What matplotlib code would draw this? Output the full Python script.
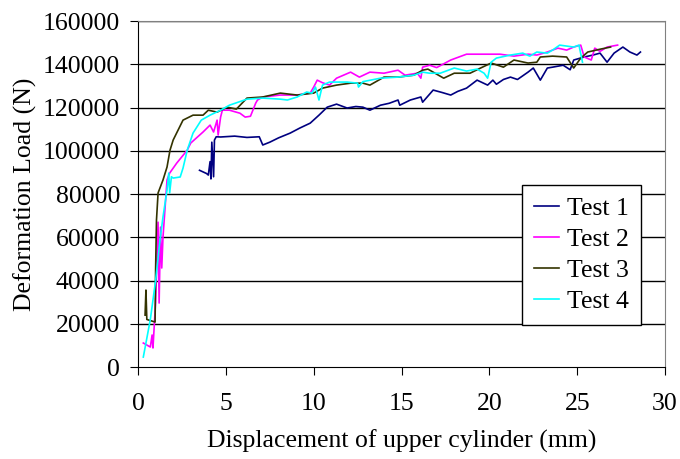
import numpy as np
import matplotlib.pyplot as plt

plt.rcParams['font.family'] = ['Liberation Serif', 'DejaVu Serif']

# Test 1 (mm, N)
t1_x = [3.5, 3.9, 4.0, 4.1, 4.15, 4.2, 4.3, 4.35, 4.45, 4.7, 5.5, 6.2, 6.9, 7.1, 7.5, 8.0, 8.66, 9.2, 9.8,
        10.3, 10.77, 11.3, 11.9, 12.4, 12.8, 13.2, 13.8, 14.3, 14.8, 14.9, 15.5, 16.1, 16.2, 16.8, 17.3, 17.8,
        18.2, 18.7, 19.3, 19.9, 20.2, 20.4, 20.8, 21.2, 21.6, 22.2, 22.5, 22.9, 23.3, 23.6, 24.2, 24.6, 24.8,
        25.4, 25.9, 26.3, 26.7, 27.1, 27.6, 28.0, 28.4, 28.6]
t1_y = [91000, 89500, 88800, 95000, 87000, 104000, 88000, 105000, 106500, 106400, 106800, 106200, 106500, 102700,
        104000, 106000, 108200, 110500, 112800, 116500, 120200, 121600, 119800, 120500, 120200, 118800, 121100,
        122000, 123500, 121100, 123500, 124900, 122500, 128100, 127000, 125800, 127500, 129000, 132700, 130400,
        132700, 130800, 133000, 134100, 133000, 136400, 138300, 132700, 138300, 138700, 139600, 137500, 142000,
        143400, 144300, 145200, 141000, 145200, 148000, 145700, 144300, 145700]

# Test 2
t2_x = [0.3, 0.7, 0.8, 0.85, 1.0, 1.14, 1.2, 1.28, 1.35, 1.42, 1.65, 1.8, 2.2, 2.8, 3.0, 3.7, 4.1, 4.3, 4.5,
        4.56, 4.7, 4.8, 5.2, 5.8, 6.1, 6.4, 6.7, 6.8, 7.1, 8.1, 9.06, 9.8, 10.0, 10.2, 10.5, 10.9, 11.3, 12.1,
        12.6, 13.2, 14.0, 14.8, 15.2, 15.9, 16.1, 16.2, 16.6, 17.0, 17.8, 18.7, 19.7, 20.6, 21.4, 22.2, 22.7,
        23.3, 23.9, 24.4, 24.8, 25.2, 25.4, 25.8, 26.0, 26.3, 26.7, 27.3]
t2_y = [11100, 9250, 14800, 8800, 30000, 67000, 29600, 64700, 45800, 60000, 86500, 89700, 94300, 100300, 103600,
        108700, 111900, 108700, 114200, 107300, 115600, 118800, 118800, 117400, 115600, 116000, 122100, 123500,
        124900, 125800, 125800, 126700, 129500, 132700, 131500, 130400, 133600, 136400, 134100, 136400, 135900,
        137300, 135000, 135900, 133600, 138700, 139600, 138500, 142000, 144700, 144700, 144700, 143800, 144700,
        144300, 145700, 147500, 146600, 148000, 148900, 143400, 142000, 147500, 146000, 148000, 148900]

# Test 3
t3_x = [0.4, 0.45, 0.5, 0.97, 1.0, 1.05, 1.14, 1.42, 1.65, 1.82, 2.0, 2.56, 3.13, 3.7, 4.0, 4.5, 5.07, 5.6,
        6.2, 7.1, 8.1, 9.06, 10.0, 10.5, 11.3, 12.1, 12.8, 13.2, 14.0, 14.8, 15.7, 16.2, 16.5, 17.4, 18.0,
        18.9, 19.5, 20.1, 20.8, 21.4, 22.2, 22.7, 22.9, 23.6, 24.4, 24.8, 25.2, 25.6, 26.3, 26.9]
t3_y = [24000, 35600, 22000, 20800, 45000, 68000, 80500, 86500, 92500, 100300, 105000, 114200, 116500, 116500,
        118800, 117900, 120200, 119300, 124400, 124900, 126700, 125800, 126700, 129000, 130400, 131300, 131300,
        130400, 134100, 134100, 135000, 137300, 137800, 133600, 135900, 135900, 138300, 140600, 138700, 142000,
        140600, 141000, 143400, 143800, 143400, 138300, 142900, 145700, 147000, 148000]

# Test 4
t4_x = [0.3, 0.7, 1.0, 1.25, 1.42, 1.65, 1.75, 1.8, 1.9, 2.0, 2.4, 2.56, 2.8, 3.13, 3.6, 4.1, 4.7, 5.2, 6.2,
        7.1, 8.1, 8.5, 9.06, 9.6, 9.9, 10.1, 10.3, 10.5, 10.9, 11.9, 12.5, 12.55, 12.8, 13.8, 14.8, 15.7, 16.2,
        16.6, 17.2, 18.0, 18.7, 19.3, 19.7, 19.9, 20.1, 20.4, 21.2, 21.9, 22.3, 22.7, 23.3, 23.6, 24.0, 24.8,
        25.1, 25.3]
t4_y = [4600, 22000, 40000, 58700, 69400, 81800, 89700, 80500, 88000, 87400, 87900, 92000, 100300, 108200,
        114200, 116500, 118800, 121100, 123900, 124400, 123900, 123500, 124900, 127200, 126700, 129500, 123500,
        130400, 131800, 131800, 131300, 129500, 132000, 133600, 134100, 135000, 136400, 135900, 135900, 138300,
        136900, 137800, 135900, 133600, 141000, 142900, 144300, 145200, 143800, 145700, 145200, 146600, 148900,
        148000, 148900, 141000]

series = [(t1_x, t1_y, 'Test 1', '#000080'),
          (t2_x, t2_y, 'Test 2', '#ff00ff'),
          (t3_x, t3_y, 'Test 3', '#333300'),
          (t4_x, t4_y, 'Test 4', '#00ffff')]

fig = plt.figure(figsize=(6.8, 4.59), dpi=100)
ax = fig.add_axes([0.203, 0.2004, 0.775, 0.7536])

for y in range(20000, 160001, 20000):
    ax.axhline(y, color='black', lw=1.0, zorder=1)

for x, y, lab, c in series:
    ax.plot(x, y, color=c, lw=1.2, label=lab, zorder=3)

ax.set_xlim(0, 30)
ax.set_ylim(0, 160000)
ax.set_xticks(np.arange(0, 31, 5))
ax.set_yticks(np.arange(0, 160001, 20000))
ax.tick_params(labelsize=18.5, direction='out', length=6, color='black')
ax.tick_params(axis='y', pad=7)
ax.tick_params(axis='x', pad=13)
ax.set_xlabel('Displacement of upper cylinder (mm)', fontsize=18.5, labelpad=10)
ax.set_ylabel('Deformation Load (N)', fontsize=18.5, labelpad=4)

for s in ['top', 'right']:
    ax.spines[s].set_color('#808080')
for s in ['left', 'bottom']:
    ax.spines[s].set_color('black')

leg = ax.legend(loc='upper left', bbox_to_anchor=(0.729, 0.526), fontsize=18.5, frameon=True, fancybox=False,
                edgecolor='black', handlelength=1.0, handletextpad=0.3, borderpad=0.45, labelspacing=0.32,
                borderaxespad=0, framealpha=1)
leg.get_frame().set_linewidth(1.0)

plt.savefig('out.png', dpi=100)
